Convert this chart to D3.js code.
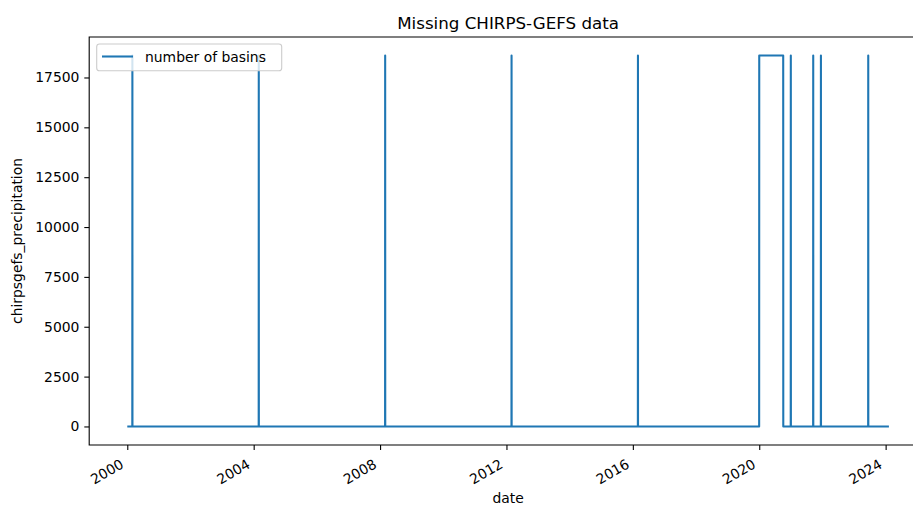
<!DOCTYPE html>
<html>
<head>
<meta charset="utf-8">
<script src="https://cdn.jsdelivr.net/npm/d3@7"></script>
<style>
  html, body { margin: 0; padding: 0; background: #fff; }
  svg { display: block; overflow: hidden; font-family: "DejaVu Sans", sans-serif; }
</style>
</head>
<body>
<svg id="chart" width="913" height="508"></svg>
<script>
// first and last day of the record
var dataStart = "2000-01-01";
var dataEnd = "2024-02-08";
// periods with missing data (start, end inclusive)
var missingStart = ["2000-02-29", "2004-02-29", "2008-02-29", "2012-02-29", "2016-02-29",
                    "2020-01-01", "2020-12-31", "2021-09-16", "2021-12-14", "2023-06-14"];
var missingEnd   = ["2000-02-29", "2004-02-29", "2008-02-29", "2012-02-29", "2016-02-29",
                    "2020-10-04", "2020-12-31", "2021-09-16", "2021-12-14", "2023-06-14"];
// basins missing on such a day
var basinCount = 18600;
var yTicks = [0, 2500, 5000, 7500, 10000, 12500, 15000, 17500];
var xTickYears = [2000, 2004, 2008, 2012, 2016, 2020, 2024];

var parse = d3.utcParse("%Y-%m-%d");
var gaps = missingStart.map(function(s, i) { return [parse(s), parse(missingEnd[i])]; });

var days = d3.utcDay.range(parse(dataStart), d3.utcDay.offset(parse(dataEnd), 1));
var series = days.map(function(d) {
    var miss = gaps.some(function(g) { return d >= g[0] && d <= g[1]; });
    return { date: d, value: miss ? basinCount : 0 };
});

var axL = 89.2, axR = 927, axT = 37, axB = 445;
var svg = d3.select("#chart");

var ext = d3.extent(series, function(d) { return d.date; });
var span = ext[1] - ext[0];
var x = d3.scaleUtc()
    .domain([new Date(+ext[0] - span * 0.05), new Date(+ext[1] + span * 0.05)])
    .range([axL, axR]);
var ymax = d3.max(series, function(d) { return d.value; });
var y = d3.scaleLinear()
    .domain([-ymax * 0.05, ymax * 1.05])
    .range([axB, axT]);

// line
var line = d3.line()
    .x(function(d) { return x(d.date); })
    .y(function(d) { return y(d.value); });
svg.append("path")
    .datum(series)
    .attr("d", line)
    .attr("fill", "none")
    .attr("stroke", "#1f77b4")
    .attr("stroke-width", 2.08)
    .attr("stroke-linejoin", "round");

// y axis
var yAxis = svg.append("g")
    .attr("transform", "translate(" + axL + ",0)")
    .call(d3.axisLeft(y).tickValues(yTicks).tickFormat(d3.format("d"))
        .tickSize(4.9).tickPadding(4.9).tickSizeOuter(0));
yAxis.select(".domain").remove();
yAxis.selectAll("text").attr("font-size", "13.9px").attr("fill", "#000").attr("font-family", "DejaVu Sans");
yAxis.selectAll("line").attr("stroke", "#000").attr("stroke-width", 1.1);

// x axis
var xAxis = svg.append("g")
    .attr("transform", "translate(0," + axB + ")")
    .call(d3.axisBottom(x)
        .tickValues(xTickYears.map(function(yr) { return new Date(Date.UTC(yr, 0, 1)); }))
        .tickFormat(d3.utcFormat("%Y"))
        .tickSize(4.9).tickSizeOuter(0));
xAxis.select(".domain").remove();
xAxis.selectAll("line").attr("stroke", "#000").attr("stroke-width", 1.1);
xAxis.selectAll("text")
    .attr("font-size", "13.9px").attr("fill", "#000").attr("font-family", "DejaVu Sans")
    .attr("text-anchor", "end")
    .attr("dy", null)
    .attr("y", null)
    .attr("transform", "translate(-3,22) rotate(-30)");

// spines
svg.append("path")
    .attr("d", "M" + axL + "," + axT + "V" + axB + "H" + axR + "V" + axT + "Z")
    .attr("fill", "none")
    .attr("stroke", "#000")
    .attr("stroke-width", 1.1);

// title and labels
svg.append("text")
    .attr("x", (axL + axR) / 2).attr("y", 28.5)
    .attr("text-anchor", "middle")
    .attr("font-size", "16.7px")
    .text("Missing CHIRPS-GEFS data");
svg.append("text")
    .attr("x", (axL + axR) / 2).attr("y", 503)
    .attr("text-anchor", "middle")
    .attr("font-size", "13.9px")
    .text("date");
svg.append("text")
    .attr("transform", "translate(22," + (axT + axB) / 2 + ") rotate(-90)")
    .attr("text-anchor", "middle")
    .attr("font-size", "13.9px")
    .text("chirpsgefs_precipitation");

// legend
var lg = svg.append("g");
lg.append("rect")
    .attr("x", 96.7).attr("y", 44).attr("width", 185).attr("height", 26.7)
    .attr("rx", 2.8)
    .attr("fill", "#fff").attr("fill-opacity", 0.8)
    .attr("stroke", "#cccccc").attr("stroke-width", 1.1);
lg.append("line")
    .attr("x1", 102).attr("x2", 133).attr("y1", 56.5).attr("y2", 56.5)
    .attr("stroke", "#1f77b4").attr("stroke-width", 2.08);
lg.append("text")
    .attr("x", 145).attr("y", 61.8)
    .attr("font-size", "13.9px")
    .text("number of basins");
</script>
</body>
</html>
